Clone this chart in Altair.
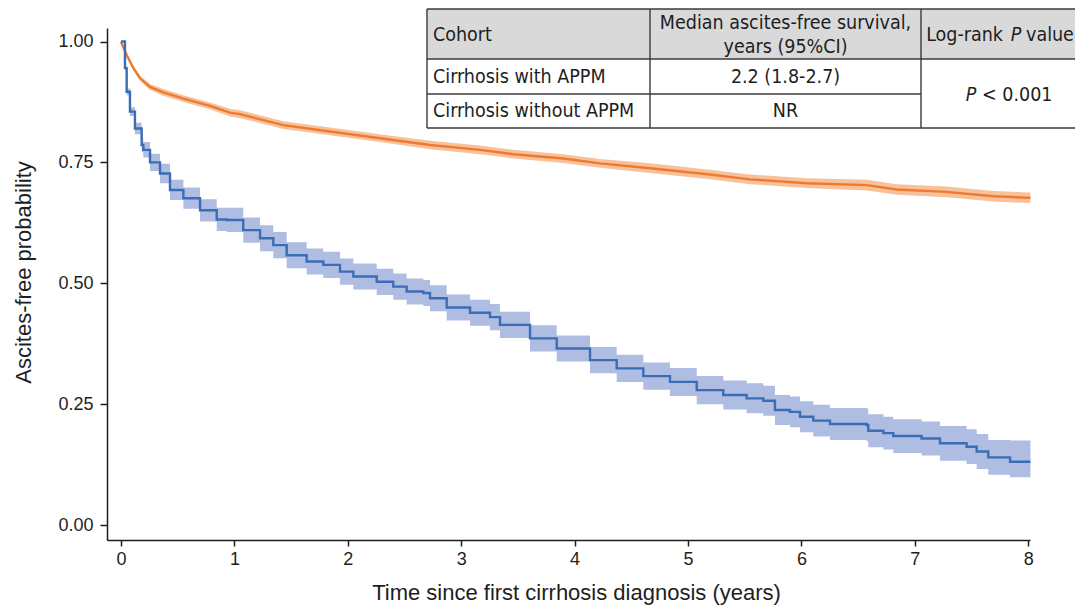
import altair as alt
import pandas as pd

# ---- Kaplan-Meier estimates ----
with_t = [0.000, 0.035, 0.050, 0.079, 0.123, 0.182, 0.197, 0.256, 0.344, 0.432, 0.550, 0.697, 0.844,
          0.932, 1.078, 1.226, 1.343, 1.461, 1.637, 1.784, 1.931, 2.049, 2.255, 2.401, 2.519, 2.666,
          2.725, 2.872, 3.078, 3.254, 3.342, 3.607, 3.842, 4.136, 4.371, 4.606, 4.841, 5.077, 5.311,
          5.517, 5.664, 5.767, 5.899, 5.988, 6.105, 6.252, 6.575, 6.590, 6.723, 6.810, 7.060, 7.222,
          7.457, 7.546, 7.648, 7.840, 8.020]
with_s = [1.000, 0.945, 0.896, 0.855, 0.820, 0.786, 0.776, 0.750, 0.727, 0.693, 0.676, 0.651, 0.632,
          0.631, 0.610, 0.593, 0.579, 0.558, 0.545, 0.538, 0.524, 0.514, 0.503, 0.493, 0.483, 0.480,
          0.469, 0.450, 0.439, 0.430, 0.414, 0.386, 0.365, 0.341, 0.324, 0.308, 0.296, 0.279, 0.269,
          0.262, 0.257, 0.238, 0.234, 0.224, 0.216, 0.209, 0.207, 0.195, 0.190, 0.184, 0.179, 0.169,
          0.162, 0.152, 0.140, 0.131, 0.131]
with_lo = [1.000, 0.940, 0.889, 0.846, 0.808, 0.771, 0.760, 0.732, 0.707, 0.672, 0.654, 0.628, 0.608,
           0.606, 0.584, 0.566, 0.552, 0.531, 0.518, 0.511, 0.497, 0.487, 0.476, 0.466, 0.456, 0.453,
           0.442, 0.423, 0.412, 0.403, 0.387, 0.359, 0.338, 0.314, 0.296, 0.280, 0.267, 0.250, 0.239,
           0.231, 0.226, 0.207, 0.202, 0.192, 0.183, 0.176, 0.173, 0.161, 0.156, 0.149, 0.144, 0.133,
           0.126, 0.116, 0.104, 0.099, 0.099]
with_hi = [1.000, 0.950, 0.903, 0.864, 0.832, 0.801, 0.792, 0.768, 0.747, 0.714, 0.698, 0.674, 0.656,
           0.656, 0.636, 0.620, 0.606, 0.585, 0.572, 0.565, 0.551, 0.541, 0.530, 0.520, 0.510, 0.507,
           0.496, 0.477, 0.466, 0.457, 0.441, 0.413, 0.392, 0.368, 0.352, 0.336, 0.325, 0.308, 0.299,
           0.293, 0.288, 0.269, 0.266, 0.256, 0.249, 0.242, 0.241, 0.229, 0.224, 0.219, 0.214, 0.205,
           0.198, 0.188, 0.176, 0.175, 0.175]

without_t = [0.000, 0.006, 0.050, 0.109, 0.168, 0.256, 0.373, 0.550, 0.785, 0.961, 1.049, 1.431, 1.843,
             2.284, 2.725, 3.166, 3.459, 3.900, 4.224, 4.665, 5.194, 5.547, 6.047, 6.576, 6.840, 7.281,
             7.692, 7.987, 8.020]
without_s = [1.000, 0.996, 0.972, 0.945, 0.924, 0.906, 0.895, 0.882, 0.867, 0.853, 0.850, 0.827, 0.814,
             0.800, 0.786, 0.776, 0.767, 0.758, 0.748, 0.738, 0.725, 0.715, 0.707, 0.703, 0.694, 0.689,
             0.680, 0.677, 0.677]
without_lo = [1.000, 0.995, 0.969, 0.941, 0.919, 0.900, 0.888, 0.875, 0.860, 0.845, 0.842, 0.819, 0.806,
              0.792, 0.777, 0.767, 0.758, 0.749, 0.739, 0.728, 0.715, 0.705, 0.697, 0.692, 0.683, 0.678,
              0.669, 0.666, 0.666]
without_hi = [1.000, 0.997, 0.975, 0.949, 0.929, 0.912, 0.902, 0.889, 0.874, 0.861, 0.858, 0.835, 0.822,
              0.808, 0.795, 0.785, 0.776, 0.767, 0.757, 0.748, 0.735, 0.725, 0.717, 0.714, 0.705, 0.700,
              0.691, 0.688, 0.688]

x_ticks = [0, 1, 2, 3, 4, 5, 6, 7, 8]
y_ticks = [0.0, 0.25, 0.5, 0.75, 1.0]

# ---- table content ----
tbl_header = ["Cohort", "Median ascites-free survival,", "years (95%CI)"]
tbl_cohorts = ["Cirrhosis with APPM", "Cirrhosis without APPM"]
tbl_median = ["2.2 (1.8-2.7)", "NR"]
tbl_p = "< 0.001"

# ---- style / layout ----
W, H = 923, 512
BLUE, BLUE_BAND = "#3b6db6", "#b0bde3"
ORANGE, ORANGE_BAND = "#ee7a30", "#f7c29b"
AX_FONT = "Liberation Sans"
TB_FONT = "DejaVu Sans Condensed"
INK = "#1e1e1e"

df_with = pd.DataFrame({"t": with_t, "s": with_s, "lo": with_lo, "hi": with_hi})
df_without = pd.DataFrame({"t": without_t, "s": without_s, "lo": without_lo, "hi": without_hi})

xs = alt.Scale(domain=[-0.1235, 8.016], nice=False, zero=False)
ys = alt.Scale(domain=[-0.031, 1.028], nice=False, zero=False)

x_enc = alt.X("t:Q", scale=xs,
              axis=alt.Axis(values=x_ticks, format="d", title="Time since first cirrhosis diagnosis (years)",
                            grid=False, tickSize=6, labelPadding=4, titleY=59, titleBaseline="alphabetic",
                            titleX=469, titleAlign="center"))
y_axis = alt.Axis(values=y_ticks, format=".2f", title="Ascites-free probability", grid=False,
                  tickSize=7, labelPadding=7, titleX=-84, titleY=244, titleAngle=270,
                  titleAlign="center", titleBaseline="middle")


def km_layers(df, line_color, band_color, interp):
    band = alt.Chart(df).mark_area(interpolate=interp, color=band_color, opacity=1).encode(
        x=x_enc, y=alt.Y("lo:Q", scale=ys, axis=y_axis), y2="hi:Q")
    line = alt.Chart(df).mark_line(interpolate=interp, color=line_color, strokeWidth=2.4).encode(
        x=alt.X("t:Q", scale=xs), y=alt.Y("s:Q", scale=ys))
    return [band, line]


curves = alt.layer(*km_layers(df_without, ORANGE, ORANGE_BAND, "linear"),
                   *km_layers(df_with, BLUE, BLUE_BAND, "step-after"))

# ---- table (pixel layout relative to the plot area) ----
L, C1, C2, R = 320, 543, 814, 983
T, HB, R1, B = -19, 31, 66, 100

hdr_fill = alt.Chart(pd.DataFrame({"x": [L], "x2": [R], "y": [T], "y2": [HB]})).mark_rect(
    fill="#d9d9d9").encode(
    x=alt.X("x:Q", scale=None, axis=None), x2="x2:Q",
    y=alt.Y("y:Q", scale=None, axis=None), y2="y2:Q")

hlines = pd.DataFrame({"x": [L, L, L, L], "x2": [R, R, C2, R], "y": [T, HB, R1, B]})
hrules = alt.Chart(hlines).mark_rule(color="#3a3a3a", strokeWidth=1.4).encode(
    x=alt.X("x:Q", scale=None, axis=None), x2="x2:Q",
    y=alt.Y("y:Q", scale=None, axis=None))
vlines = pd.DataFrame({"x": [L, C1, C2, R], "y": [T] * 4, "y2": [B] * 4})
vrules = alt.Chart(vlines).mark_rule(color="#3a3a3a", strokeWidth=1.4).encode(
    x=alt.X("x:Q", scale=None, axis=None),
    y=alt.Y("y:Q", scale=None, axis=None), y2="y2:Q")


def txt(df, align, style="normal"):
    return alt.Chart(df).mark_text(align=align, baseline="middle", font=TB_FONT, fontSize=19.5,
                                   fontStyle=style, color=INK).encode(
        x=alt.X("x:Q", scale=None, axis=None),
        y=alt.Y("y:Q", scale=None, axis=None),
        text="label:N")


left_txt = txt(pd.DataFrame({"label": [tbl_header[0]] + tbl_cohorts,
                             "x": [326, 326, 326], "y": [7, 49, 83]}), "left")
mid_txt = txt(pd.DataFrame({"label": tbl_header[1:] + tbl_median,
                            "x": [678.5] * 4, "y": [-5, 19, 49, 83]}), "center")
lr_a = txt(pd.DataFrame({"label": ["Log-rank"], "x": [896], "y": [7]}), "right")
lr_p = txt(pd.DataFrame({"label": ["P", "P"], "x": [909, 864], "y": [7, 67]}), "center", "italic")
lr_b = txt(pd.DataFrame({"label": ["value", tbl_p], "x": [919, 875], "y": [7, 67]}), "left")

table = alt.layer(hdr_fill, hrules, vrules, left_txt, mid_txt, lr_a, lr_p, lr_b)

chart = alt.layer(curves, table).resolve_scale(x="independent", y="independent").properties(
    width=W, height=H,
    autosize=alt.AutoSizeParams(type="none"),
    padding={"left": 99, "top": 20, "right": 45, "bottom": 65},
).configure_view(stroke=None).configure_axis(
    labelFont=AX_FONT, titleFont=AX_FONT, labelFontSize=18, titleFontSize=22,
    labelColor=INK, titleColor=INK, titleFontWeight="normal",
    domainColor=INK, tickColor=INK, domainWidth=1.5, tickWidth=1.5,
)

chart.save("out.html", embed_options={"renderer": "svg", "actions": False})
